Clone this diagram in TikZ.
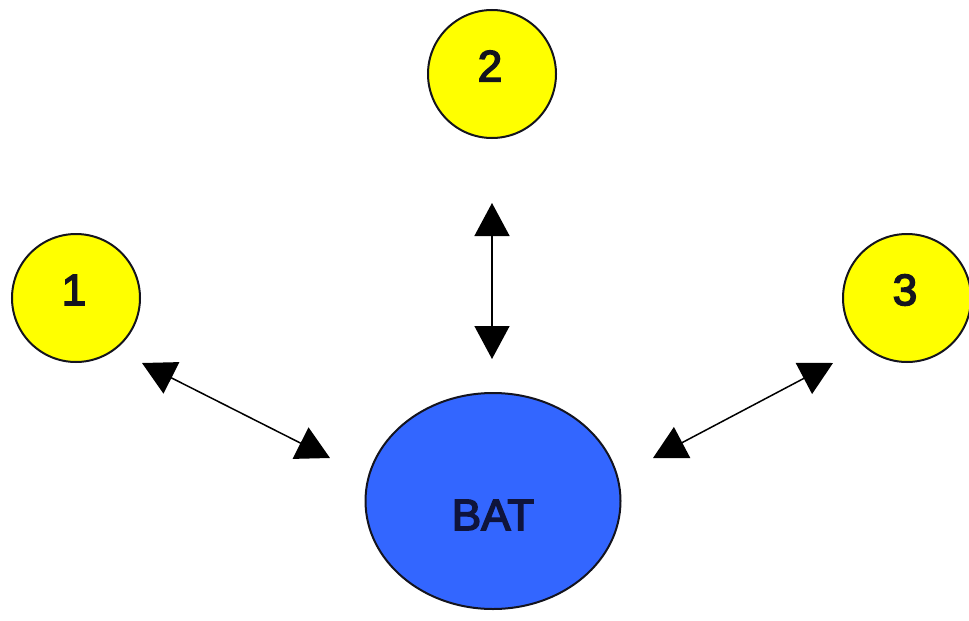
\documentclass[tikz,border=0pt]{standalone}
\usepackage{fontspec}
\setmainfont{Liberation Sans}
\newfontfamily\labelface[FakeBold=3.5]{Liberation Sans}
\usetikzlibrary{arrows.meta,shapes.geometric}
\definecolor{sunyellow}{RGB}{255,255,0}
\definecolor{batblue}{RGB}{51,102,255}
\definecolor{inkdark}{RGB}{20,20,30}
\definecolor{navyink}{RGB}{15,20,60}
\tikzset{
  ball/.style={circle,draw=inkdark,line width=1pt,fill=sunyellow,minimum size=64pt,inner sep=0pt},
  digit/.style={font=\labelface\fontsize{22}{26}\selectfont,text=inkdark,yshift=4pt,xshift=-1pt},
  batnode/.style={ellipse,draw=inkdark,line width=1pt,fill=batblue,minimum width=127.5pt,minimum height=108pt,inner sep=0pt},
  battext/.style={font=\labelface\fontsize{22}{26}\selectfont,text=navyink,yshift=-7pt},
  link/.style={line width=0.75pt,draw=black,{Triangle[length=16.5pt,width=17.5pt]}-{Triangle[length=16.5pt,width=17.5pt]}}
}
\begin{document}
\begin{tikzpicture}[x=0.5pt,y=-0.5pt]
  \useasboundingbox (0,0) rectangle (969,621);
  \node[ball,label={[digit]center:1}] (n1) at (76,298) {};
  \node[ball,label={[digit]center:2}] (n2) at (492,74) {};
  \node[ball,label={[digit]center:3}] (n3) at (907,298) {};
  \node[batnode,label={[battext]center:BAT}] (bat) at (493,501) {};
  \coordinate (l1) at (142,363);
  \coordinate (l2) at (330,458);
  \coordinate (v1) at (492,203);
  \coordinate (v2) at (492,359);
  \coordinate (r1) at (653,458);
  \coordinate (r2) at (833,363);
  \draw[link] (l1) -- (l2);
  \draw[link] (v1) -- (v2);
  \draw[link] (r1) -- (r2);
\end{tikzpicture}
\end{document}
